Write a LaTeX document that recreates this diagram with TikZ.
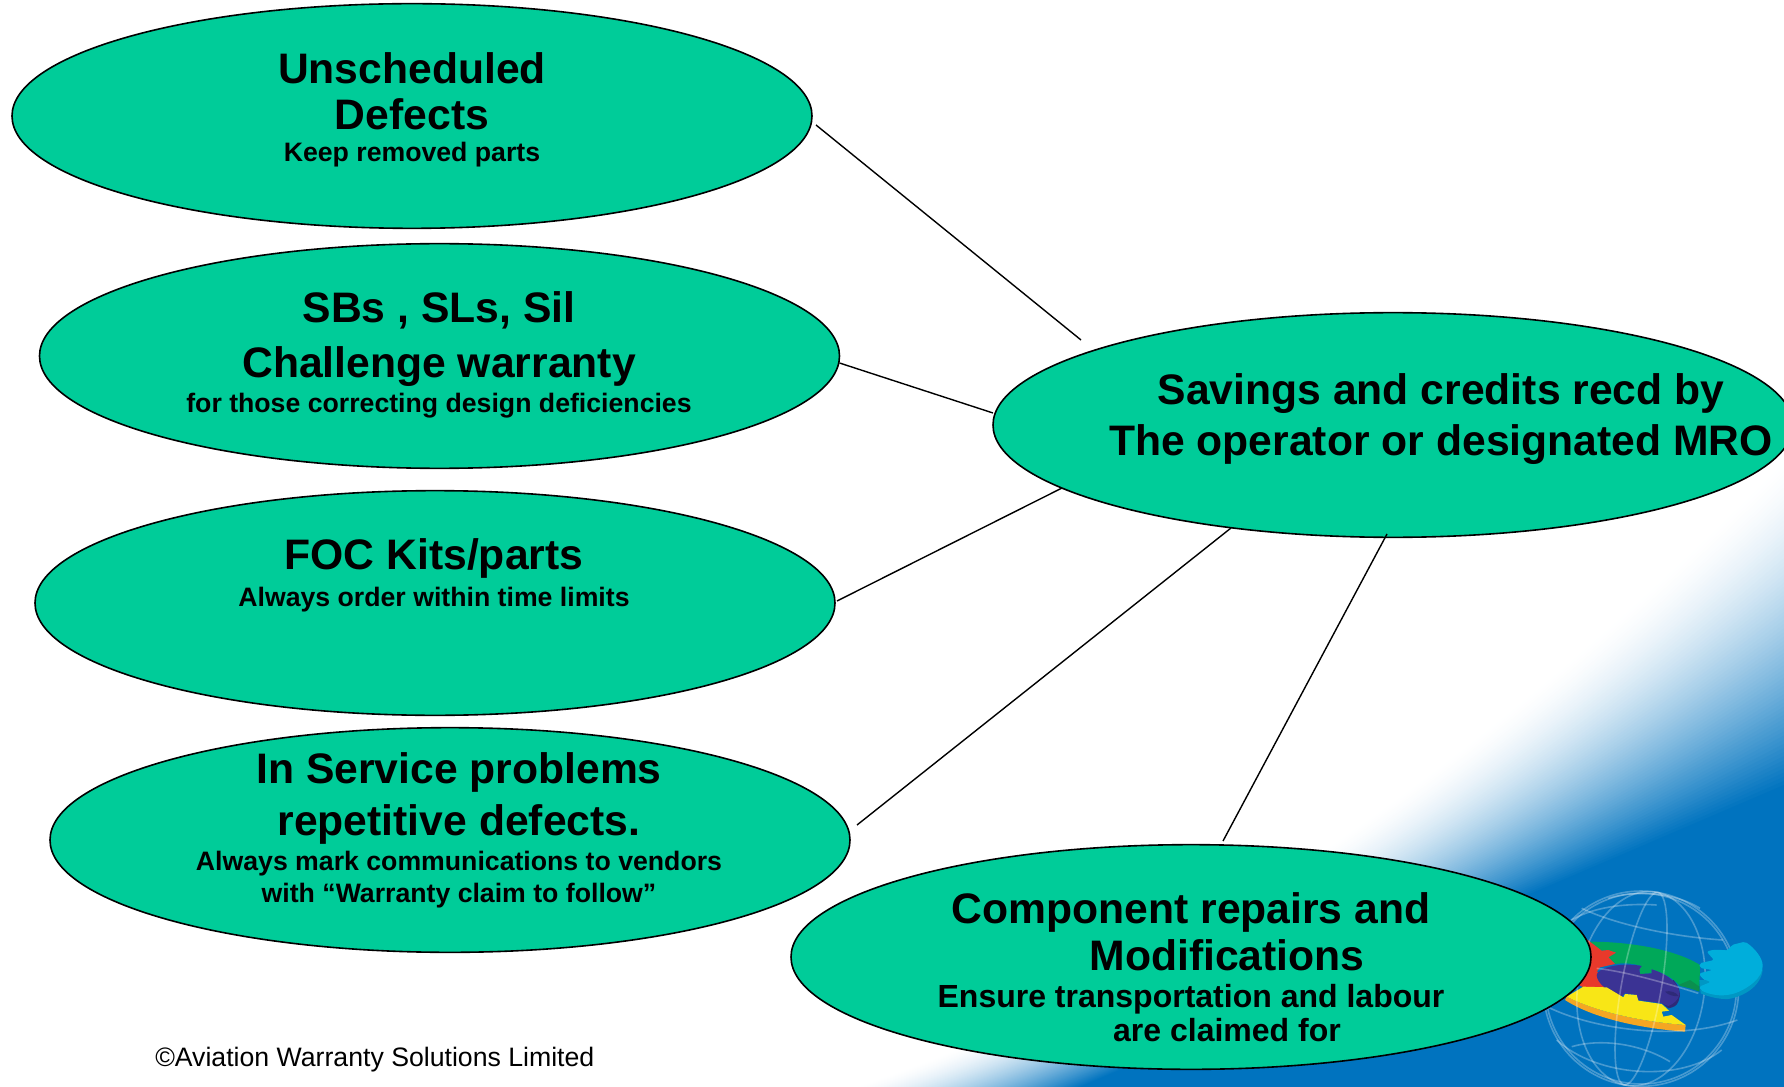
\documentclass[tikz,border=0pt]{standalone}
\usepackage{fontspec}
\setmainfont{Liberation Sans}
\usetikzlibrary{shapes.geometric,calc}
\definecolor{oval}{HTML}{00CC99}
\definecolor{bgblue}{HTML}{0073BF}
\definecolor{pzgreen}{HTML}{00A859}
\definecolor{pzdkgreen}{HTML}{0B8F4F}
\definecolor{pzred}{HTML}{E8392B}
\definecolor{pzpurple}{HTML}{3B3394}
\definecolor{pzdkpurple}{HTML}{2E2A78}
\definecolor{pzyellow}{HTML}{F8E616}
\definecolor{pzorange}{HTML}{F5A623}
\definecolor{pzcyan}{HTML}{00AEDB}
\definecolor{pzdkcyan}{HTML}{0097C4}
\tikzset{
  x=.75pt,y=-.75pt,
  oval/.style={draw=black,line width=1.2pt,fill=oval,ellipse,inner sep=0pt,minimum width=600pt,minimum height=168.5pt},
  link/.style={draw=black,line width=1.05pt},
  big/.style={anchor=base,inner sep=0pt,font=\fontsize{32}{36}\selectfont\bfseries},
  small/.style={anchor=base,inner sep=0pt,font=\fontsize{20}{24}\selectfont\bfseries},
  mid/.style={anchor=base,inner sep=0pt,font=\fontsize{24}{28}\selectfont\bfseries},
  wire/.style={draw=white,opacity=.28,line width=1.2pt},
}
\begin{document}
\begin{tikzpicture}
\useasboundingbox (0,0) rectangle (1784,1087);
\fill[white] (0,0) rectangle (1784,1087);
% background gradient
\foreach \i in {0,...,80}{
  \pgfmathsetmacro{\tt}{\i/80}
  \pgfmathsetmacro{\xx}{853+227*\tt}
  \pgfmathsetmacro{\yy}{455+330*\tt}
  \pgfmathsetmacro{\bow}{107*(1-\tt)}
  \pgfmathsetmacro{\cax}{\xx+(1784-\xx)/3}
  \pgfmathsetmacro{\cay}{1087+(\yy-1087)/3+\bow}
  \pgfmathsetmacro{\cbx}{\xx+2*(1784-\xx)/3}
  \pgfmathsetmacro{\cby}{1087+2*(\yy-1087)/3+\bow}
  \pgfmathsetmacro{\pp}{100*pow(\tt,1.6)}
  \fill[bgblue!\pp!white] (\xx,1087) .. controls (\cax,\cay) and (\cbx,\cby) .. (1784,\yy) -- (1784,1087) -- cycle;
}
% logo
\begin{scope}[shift={(1540,880)},x=.25pt,y=-.25pt]
  \fill[pzgreen] (150,185) .. controls (260,185) and (400,205) .. (480,255) -- (478,330) -- (420,318) .. controls (400,295) and (370,278) .. (335,268) -- (335,280) -- (300,282) -- (298,266) -- (305,258) .. controls (280,250) and (250,248) .. (225,252) -- (205,232) -- (228,218) -- (205,210) -- (185,212) -- cycle;
  \fill[pzdkgreen] (415,315) -- (450,300) -- (478,320) -- (478,335) -- (450,325) -- cycle;
  \fill[pzred] (130,170) -- (185,212) -- (205,210) -- (228,218) -- (205,232) -- (225,252) -- (180,262) -- (170,275) -- (215,285) -- (175,292) -- (200,322) -- (130,322) -- (90,300) -- cycle;
  \fill[pzdkpurple] (400,300) .. controls (418,320) and (425,345) .. (415,365) .. controls (410,378) and (400,382) .. (385,385) -- (360,365) -- cycle;
  \fill[pzpurple] (170,285) .. controls (170,265) and (240,245) .. (305,258) -- (298,268) -- (300,282) -- (335,280) -- (335,268) .. controls (390,285) and (420,315) .. (418,345) .. controls (414,360) and (400,372) .. (385,378) -- (365,370) -- (295,360) -- (290,345) -- (255,340) -- (245,350) .. controls (205,335) and (170,310) .. (170,285) -- cycle;
  \fill[pzdkpurple] (375,335) .. controls (390,330) and (410,338) .. (416,348) .. controls (400,350) and (385,345) .. (375,335) -- cycle;
  \fill[pzorange] (80,350) .. controls (170,395) and (300,425) .. (437,435) -- (435,455) .. controls (300,445) and (160,415) .. (75,360) -- cycle;
  \fill[pzyellow] (130,320) -- (200,322) -- (250,352) -- (255,342) -- (290,345) -- (295,362) -- (365,372) -- (387,392) -- (365,395) -- (370,410) -- (395,405) -- (437,435) .. controls (300,425) and (170,395) .. (80,350) -- cycle;
  % globe wires
  \draw[wire] (303,326) circle[x radius=293,y radius=293];
  \draw[wire] (303,326) circle[x radius=286,y radius=286];
  \draw[wire,rotate around={-8:(303,326)}] (303,326) circle[x radius=190,y radius=293];
  \draw[wire,rotate around={-10:(303,326)}] (303,326) circle[x radius=60,y radius=293];
  \draw[wire] (125,85) .. controls (230,135) and (400,170) .. (548,180);
  \draw[wire] (205,55) .. controls (280,30) and (400,35) .. (480,85);
  \draw[wire] (95,120) .. controls (170,75) and (280,70) .. (350,75);
  \draw[wire] (170,265) .. controls (260,275) and (380,310) .. (475,340);
  \draw[wire] (12,375) .. controls (130,440) and (400,490) .. (592,420);
  \draw[wire] (50,480) .. controls (170,590) and (420,610) .. (545,510);
  \draw[wire] (95,500) .. controls (180,475) and (300,490) .. (390,545);
  % cyan piece
  \fill[pzdkcyan] (478,300) -- (482,340) .. controls (510,352) and (540,358) .. (565,357) .. controls (610,350) and (662,320) .. (668,270) -- (600,300) -- cycle;
  \fill[pzcyan,rounded corners=1.5pt] (500,215) .. controls (530,205) and (550,212) .. (565,210) -- (575,195) -- (615,185) .. controls (645,205) and (668,235) .. (668,262) .. controls (660,305) and (600,340) .. (560,345) .. controls (530,348) and (500,340) .. (482,330) -- (478,320) -- (512,306) -- (485,295) -- (478,280) -- (517,270) -- (480,264) -- (478,250) -- (522,240) -- cycle;
\end{scope}
% ovals
\node[oval] (e1) at (412,116) {};
\node[oval] (e2) at (439.5,356) {};
\node[oval] (e3) at (435,603) {};
\node[oval] (e4) at (450,840) {};
\node[oval] (e5) at (1191,957) {};
\node[oval] (e6) at (1393,425) {};
% connectors
\draw[link] ($(e1.center)+(404,9)$) -- ($(e6.center)+(-312,-85)$);
\draw[link] ($(e2.center)+(400,7)$) -- ($(e6.center)+(-400,-12)$);
\draw[link] ($(e3.center)+(402,-2)$) -- ($(e6.center)+(-331,63)$);
\draw[link] ($(e4.center)+(407,-15)$) -- ($(e6.center)+(-162,103)$);
\draw[link] ($(e5.center)+(32,-116)$) -- ($(e6.center)+(-6,109)$);
% texts
\node[big] (t1a) at (412,84) {Unscheduled};
\node[big] (t1b) at (412,130) {Defects};
\node[small] (t1c) at (412,162) {Keep removed parts};
\node[big] (t2a) at (439,323) {SBs , SLs, Sil};
\node[big] (t2b) at (439,378) {Challenge warranty};
\node[small] (t2c) at (439,412) {for those correcting design deficiencies};
\node[big] (t3a) at (434,569) {FOC Kits/parts};
\node[small] (t3b) at (434,606) {Always order within time limits};
\node[big] (t4a) at (459,783) {In Service problems};
\node[big] (t4b) at (459,835) {repetitive defects.};
\node[small] (t4c) at (459,870) {Always mark communications to vendors};
\node[small] (t4d) at (459,902) {with “Warranty claim to follow”};
\node[big] (t5a) at (1191,923) {Component repairs and};
\node[big] (t5b) at (1227,970) {Modifications};
\node[mid] (t5c) at (1191,1007) {Ensure transportation and labour};
\node[mid] (t5d) at (1227,1041) {are claimed for};
\node[big] (t6a) at (1441,404) {Savings and credits recd by};
\node[big] (t6b) at (1441,455) {The operator or designated MRO};
\node[anchor=base west,inner sep=0pt,font=\fontsize{20}{24}\selectfont] (copy) at (155,1066) {©Aviation Warranty Solutions Limited};
\end{tikzpicture}
\end{document}
